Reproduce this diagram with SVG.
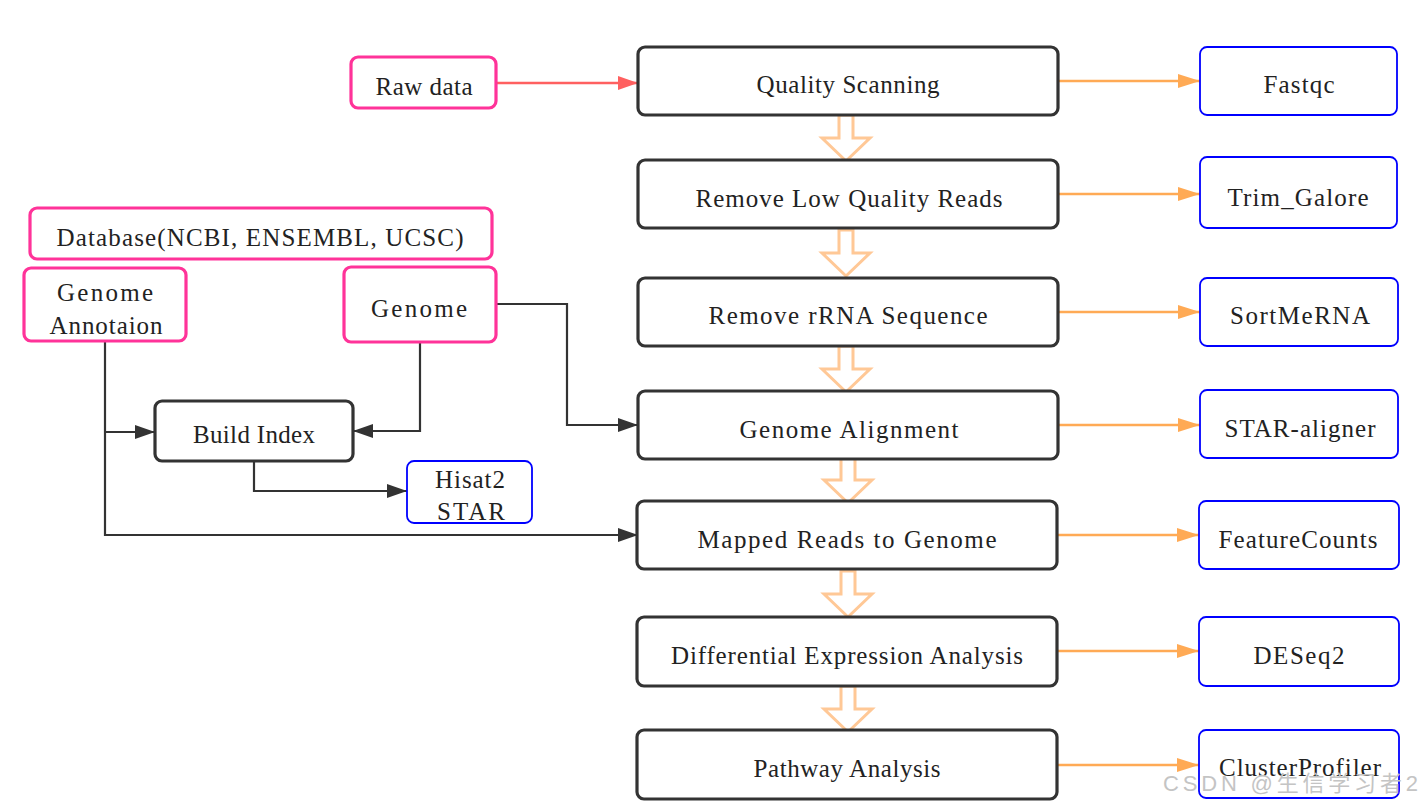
<svg xmlns="http://www.w3.org/2000/svg" width="1421" height="810" viewBox="0 0 1421 810">
<defs>
<style>
text{font-family:"Liberation Serif","Times New Roman",serif;font-size:25px;fill:#222;text-anchor:middle}
.main{fill:#fff;stroke:#333;stroke-width:3.2}
.pink{fill:#fff;stroke:#FF3399;stroke-width:3.2}
.blue{fill:#fff;stroke:#0000FF;stroke-width:1.8}
.dark{fill:none;stroke:#333;stroke-width:2.2}
.org{fill:none;stroke:#FFAA55;stroke-width:2.5}
.red{fill:none;stroke:#FF6060;stroke-width:2.5}
.hollow{fill:#fff;stroke:#FFC896;stroke-width:3}
.wm{font-family:"Liberation Sans","Noto Sans CJK SC",sans-serif;font-size:22px;fill:#c4c4c4;text-anchor:start}
</style>
<marker id="ad" markerUnits="userSpaceOnUse" markerWidth="20" markerHeight="14" refX="20" refY="7" orient="auto"><path d="M0,0 L20,7 L0,14 z" fill="#333"/></marker>
<marker id="ao" markerUnits="userSpaceOnUse" markerWidth="22" markerHeight="14" refX="22" refY="7" orient="auto"><path d="M0,0 L22,7 L0,14 z" fill="#FFAA55"/></marker>
<marker id="ar" markerUnits="userSpaceOnUse" markerWidth="20" markerHeight="14" refX="20" refY="7" orient="auto"><path d="M0,0 L20,7 L0,14 z" fill="#FF6060"/></marker>
<path id="hol" d="M-7,0 L7,0 L7,23 L24,23 L0,46 L-24,23 L-7,23 z"/>
</defs>

<g id="connectors">
<path class="red" d="M496,83 L638,83" marker-end="url(#ar)"/>
<path class="org" d="M1058,81 L1200,81" marker-end="url(#ao)"/>
<path class="org" d="M1058,194 L1200,194" marker-end="url(#ao)"/>
<path class="org" d="M1058,312 L1200,312" marker-end="url(#ao)"/>
<path class="org" d="M1058,425 L1200,425" marker-end="url(#ao)"/>
<path class="org" d="M1058,535 L1199,535" marker-end="url(#ao)"/>
<path class="org" d="M1058,651 L1199,651" marker-end="url(#ao)"/>
<path class="org" d="M1058,765 L1199,765" marker-end="url(#ao)"/>
<path class="dark" d="M105,341 L105,535 L638,535" marker-end="url(#ad)"/>
<path class="dark" d="M105,432 L155,432" marker-end="url(#ad)"/>
<path class="dark" d="M420,342 L420,431 L353,431" marker-end="url(#ad)"/>
<path class="dark" d="M496,304 L567,304 L567,425 L638,425" marker-end="url(#ad)"/>
<path class="dark" d="M254,461 L254,491 L407,491" marker-end="url(#ad)"/>
<use href="#hol" class="hollow" x="846" y="115"/>
<use href="#hol" class="hollow" x="846" y="230"/>
<use href="#hol" class="hollow" x="846" y="346"/>
<use href="#hol" class="hollow" x="848" y="457"/>
<use href="#hol" class="hollow" x="848" y="571"/>
<use href="#hol" class="hollow" x="848" y="686"/>
</g>

<g id="raw"><rect class="pink" x="351" y="57" width="145" height="51" rx="7"/><text x="424" y="95" textLength="97" lengthAdjust="spacing">Raw data</text></g>
<g id="quality"><rect class="main" x="638" y="47" width="420" height="68" rx="7"/><text x="848" y="93" textLength="183" lengthAdjust="spacing">Quality Scanning</text></g>
<g id="fastqc"><rect class="blue" x="1200" y="47" width="197" height="68" rx="7"/><text x="1299" y="93" textLength="71" lengthAdjust="spacing">Fastqc</text></g>
<g id="lowq"><rect class="main" x="638" y="160" width="420" height="68" rx="7"/><text x="849" y="207" textLength="307" lengthAdjust="spacing">Remove Low Quality Reads</text></g>
<g id="trim"><rect class="blue" x="1200" y="157" width="197" height="71" rx="7"/><text x="1298" y="206" textLength="141" lengthAdjust="spacing">Trim_Galore</text></g>
<g id="rrna"><rect class="main" x="638" y="278" width="420" height="68" rx="7"/><text x="848" y="324" textLength="279" lengthAdjust="spacing">Remove rRNA Sequence</text></g>
<g id="sortmerna"><rect class="blue" x="1200" y="278" width="198" height="68" rx="7"/><text x="1300" y="324" textLength="140" lengthAdjust="spacing">SortMeRNA</text></g>
<g id="align"><rect class="main" x="638" y="391" width="420" height="68" rx="7"/><text x="849" y="438" textLength="219" lengthAdjust="spacing">Genome Alignment</text></g>
<g id="star"><rect class="blue" x="1200" y="390" width="198" height="68" rx="7"/><text x="1300" y="437" textLength="151" lengthAdjust="spacing">STAR-aligner</text></g>
<g id="mapped"><rect class="main" x="637" y="501" width="420" height="68" rx="7"/><text x="847" y="548" textLength="299" lengthAdjust="spacing">Mapped Reads to Genome</text></g>
<g id="featurecounts"><rect class="blue" x="1199" y="501" width="200" height="68" rx="7"/><text x="1298" y="548" textLength="159" lengthAdjust="spacing">FeatureCounts</text></g>
<g id="diff"><rect class="main" x="637" y="617" width="420" height="69" rx="7"/><text x="847" y="664" textLength="352" lengthAdjust="spacing">Differential Expression Analysis</text></g>
<g id="deseq"><rect class="blue" x="1199" y="617" width="200" height="69" rx="7"/><text x="1299" y="664" textLength="91" lengthAdjust="spacing">DESeq2</text></g>
<g id="pathway"><rect class="main" x="637" y="730" width="420" height="69" rx="7"/><text x="847" y="777" textLength="187" lengthAdjust="spacing">Pathway Analysis</text></g>
<g id="cluster"><rect class="blue" x="1199" y="730" width="200" height="68" rx="7"/><text x="1300" y="776" textLength="162" lengthAdjust="spacing">ClusterProfiler</text></g>

<g id="database"><rect class="pink" x="30" y="208" width="462" height="51" rx="7"/><text x="260" y="246" textLength="407" lengthAdjust="spacing">Database(NCBI, ENSEMBL, UCSC)</text></g>
<g id="annotation"><rect class="pink" x="24" y="268" width="162" height="73" rx="7"/><text x="105" y="301" textLength="96" lengthAdjust="spacing">Genome</text><text x="106" y="334" textLength="113" lengthAdjust="spacing">Annotaion</text></g>
<g id="genome"><rect class="pink" x="344" y="267" width="152" height="75" rx="7"/><text x="419" y="317" textLength="96" lengthAdjust="spacing">Genome</text></g>
<g id="buildindex"><rect class="main" x="155" y="401" width="198" height="60" rx="7"/><text x="254" y="443" textLength="122" lengthAdjust="spacing">Build Index</text></g>
<g id="hisat"><rect class="blue" x="407" y="461" width="125" height="62" rx="7"/><text x="470" y="488" textLength="70" lengthAdjust="spacing">Hisat2</text><text x="471" y="520" textLength="68" lengthAdjust="spacing">STAR</text></g>

<text class="wm" x="1163" y="791" textLength="255" lengthAdjust="spacing">CSDN @生信学习者2</text>
</svg>
